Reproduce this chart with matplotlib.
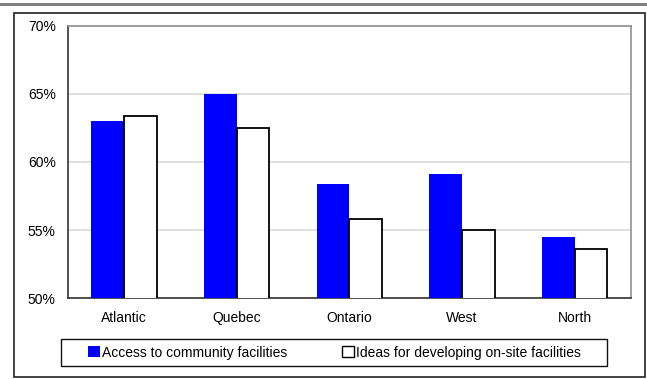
import numpy as np
import matplotlib.pyplot as plt
from matplotlib.patches import Rectangle, Patch
from matplotlib.lines import Line2D

plt.rcParams['font.family'] = ['Liberation Sans', 'DejaVu Sans']

regions = ['Atlantic', 'Quebec', 'Ontario', 'West', 'North']
access = [63.0, 65.0, 58.4, 59.1, 54.5]
ideas = [63.4, 62.5, 55.8, 55.0, 53.6]
series_names = ['Access to community facilities',
                'Ideas for developing on-site facilities']

W, H = 647, 379
fig = plt.figure(figsize=(W / 100, H / 100), dpi=100)

# plot area in pixel terms
left, right, top, bottom = 67.5, 631, 25.5, 298.3
ax = fig.add_axes([left / W, 1 - bottom / H, (right - left) / W, (bottom - top) / H])

x = np.arange(len(regions))
bw = 0.29
ax.bar(x - bw / 2, access, bw, color='#0000ff', edgecolor='none', zorder=3)
ax.bar(x + bw / 2, ideas, bw, color='white', edgecolor='black', linewidth=1.3, zorder=3)

ax.set_xlim(-0.5, len(regions) - 0.5)
ax.set_ylim(50, 70)
ax.set_yticks([50, 55, 60, 65, 70])
ax.set_yticklabels([f'{v}%' for v in [50, 55, 60, 65, 70]], fontsize=10)
ax.set_xticks(x)
ax.set_xticklabels(regions, fontsize=10)
ax.tick_params(axis='x', length=0, pad=9.5)
ax.tick_params(axis='y', length=0, pad=8.5)
ax.yaxis.grid(True, color='#d9d9d9', linewidth=1.2, zorder=0)
ax.set_axisbelow(True)

for side in ['top', 'right']:
    ax.spines[side].set_color('#909090')
    ax.spines[side].set_linewidth(1.2)
for side in ['left', 'bottom']:
    ax.spines[side].set_color('#333333')
    ax.spines[side].set_linewidth(1.2)

# legend (box drawn separately)
handles = [Patch(facecolor='#0000ff', edgecolor='none'),
           Patch(facecolor='white', edgecolor='black', linewidth=1)]
fig.legend(handles, series_names, ncol=2, loc='center',
           bbox_to_anchor=(334.5 / W, 1 - 352.5 / H), fontsize=10,
           frameon=False, handlelength=0.8, handleheight=0.8,
           handletextpad=0.15, columnspacing=4.0, borderpad=0,
           borderaxespad=0)
fig.patches.append(Rectangle((61 / W, 1 - 366 / H), (607 - 61) / W, (366 - 339) / H,
                             transform=fig.transFigure, fill=False,
                             edgecolor='#111111', linewidth=1))

# outer frame and rule line
fig.patches.append(Rectangle((14 / W, 1 - 377 / H), (645 - 14) / W, (377 - 12.5) / H,
                             transform=fig.transFigure, fill=False,
                             edgecolor='#222222', linewidth=1.2))
fig.lines.append(Line2D([0, 1], [1 - 4 / H, 1 - 4 / H], transform=fig.transFigure,
                        color='#808080', linewidth=2.2))

fig.savefig('out.png', dpi=100)
